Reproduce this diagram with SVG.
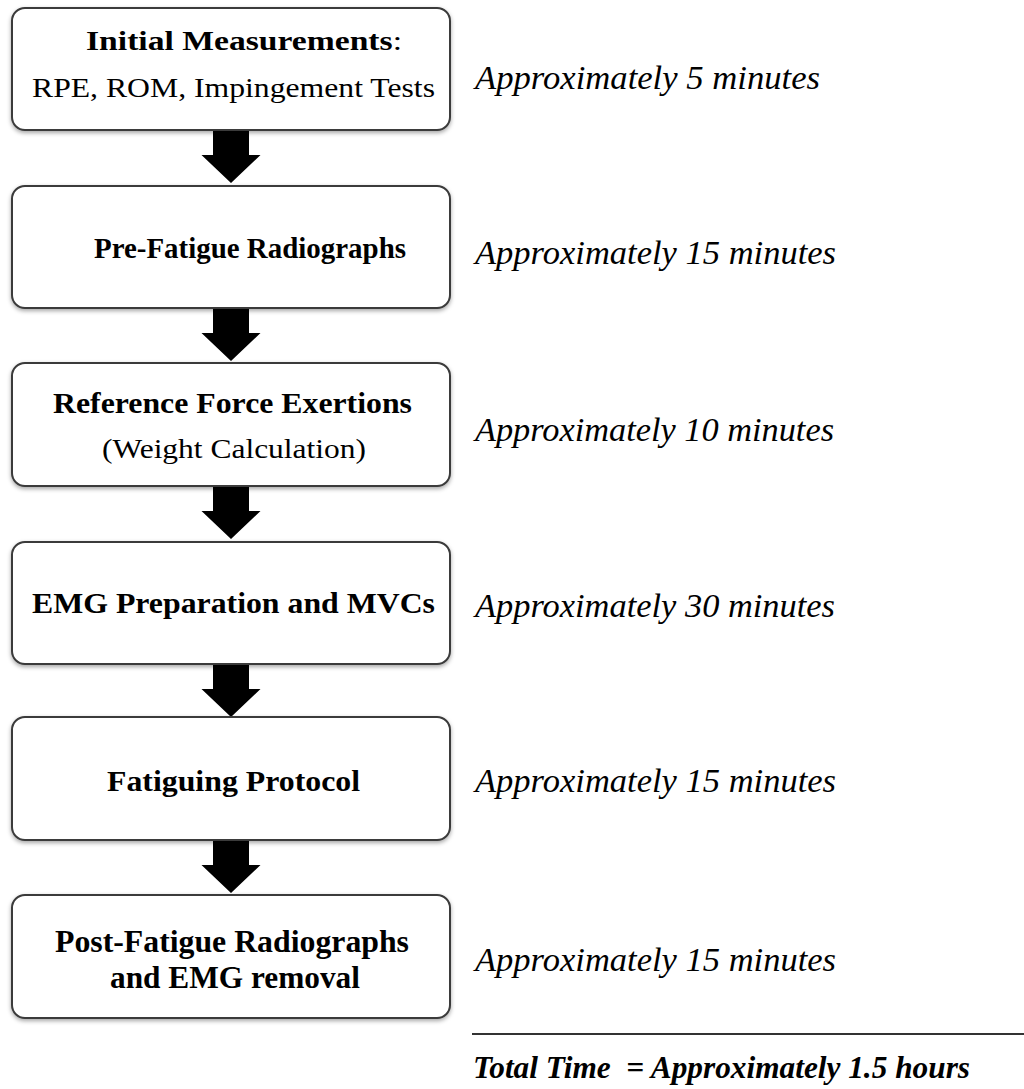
<svg xmlns="http://www.w3.org/2000/svg" width="1024" height="1089" viewBox="0 0 1024 1089">
<style>
.box{fill:#fff;stroke:#3a3a3a;stroke-width:2;filter:url(#sh)}
.b{font-family:"Liberation Serif","Times New Roman",serif;font-weight:bold;fill:#000}
.r{font-family:"Liberation Serif","Times New Roman",serif;fill:#000}
.t{font-family:"Liberation Serif","Times New Roman",serif;font-style:italic;fill:#000}
.arr{fill:#000}
</style>
<defs>
<filter id="sh" x="-5%" y="-10%" width="110%" height="130%">
<feDropShadow dx="0" dy="2" stdDeviation="2" flood-color="#000" flood-opacity="0.35"/>
</filter>
<path id="ar" d="M-18,0 H18 V24 H29.5 L0,52 L-29.5,24 H-18 Z"/>
</defs>
<g id="connectors">
<use href="#ar" class="arr" x="231" y="131"/>
<use href="#ar" class="arr" x="231" y="309"/>
<use href="#ar" class="arr" x="231" y="487"/>
<use href="#ar" class="arr" x="231" y="665"/>
<use href="#ar" class="arr" x="231" y="841"/>
</g>
<g id="n1"><rect class="box" x="12" y="8" width="438" height="122" rx="13"/>
<text class="b" x="86" y="50" font-size="26.5" textLength="316" lengthAdjust="spacingAndGlyphs">Initial Measurements<tspan font-weight="normal">:</tspan></text>
<text class="r" x="32" y="97" font-size="28" textLength="403" lengthAdjust="spacingAndGlyphs">RPE, ROM, Impingement Tests</text></g>
<g id="n2"><rect class="box" x="12" y="186" width="438" height="122" rx="13"/>
<text class="b" x="94" y="258" font-size="29.5" textLength="312" lengthAdjust="spacingAndGlyphs">Pre-Fatigue Radiographs</text></g>
<g id="n3"><rect class="box" x="12" y="363" width="438" height="123" rx="13"/>
<text class="b" x="53" y="413" font-size="30" textLength="359" lengthAdjust="spacingAndGlyphs">Reference Force Exertions</text>
<text class="r" x="102" y="458" font-size="27.5" textLength="264" lengthAdjust="spacingAndGlyphs">(Weight Calculation)</text></g>
<g id="n4"><rect class="box" x="12" y="542" width="438" height="122" rx="13"/>
<text class="b" x="32" y="613" font-size="30" textLength="403" lengthAdjust="spacingAndGlyphs">EMG Preparation and MVCs</text></g>
<g id="n5"><rect class="box" x="12" y="717" width="438" height="123" rx="13"/>
<text class="b" x="107" y="791" font-size="29.5" textLength="253" lengthAdjust="spacingAndGlyphs">Fatiguing Protocol</text></g>
<g id="n6"><rect class="box" x="12" y="895" width="438" height="123" rx="13"/>
<text class="b" x="55" y="952" font-size="31" textLength="354" lengthAdjust="spacingAndGlyphs">Post-Fatigue Radiographs</text>
<text class="b" x="110" y="988" font-size="31" textLength="250" lengthAdjust="spacingAndGlyphs">and EMG removal</text></g>
<g id="times" font-size="34.5">
<text class="t" x="475" y="89" textLength="345" lengthAdjust="spacingAndGlyphs">Approximately 5 minutes</text>
<text class="t" x="475" y="264" textLength="361" lengthAdjust="spacingAndGlyphs">Approximately 15 minutes</text>
<text class="t" x="475" y="441" textLength="359" lengthAdjust="spacingAndGlyphs">Approximately 10 minutes</text>
<text class="t" x="475" y="617" textLength="360" lengthAdjust="spacingAndGlyphs">Approximately 30 minutes</text>
<text class="t" x="475" y="792" textLength="361" lengthAdjust="spacingAndGlyphs">Approximately 15 minutes</text>
<text class="t" x="475" y="971" textLength="361" lengthAdjust="spacingAndGlyphs">Approximately 15 minutes</text>
<line x1="472" y1="1034" x2="1024" y2="1034" stroke="#333" stroke-width="2"/>
<text class="t" x="473" y="1078" font-size="32" font-weight="bold" textLength="497" lengthAdjust="spacingAndGlyphs">Total Time&#160; = Approximately 1.5 hours</text>
</g>
</svg>
